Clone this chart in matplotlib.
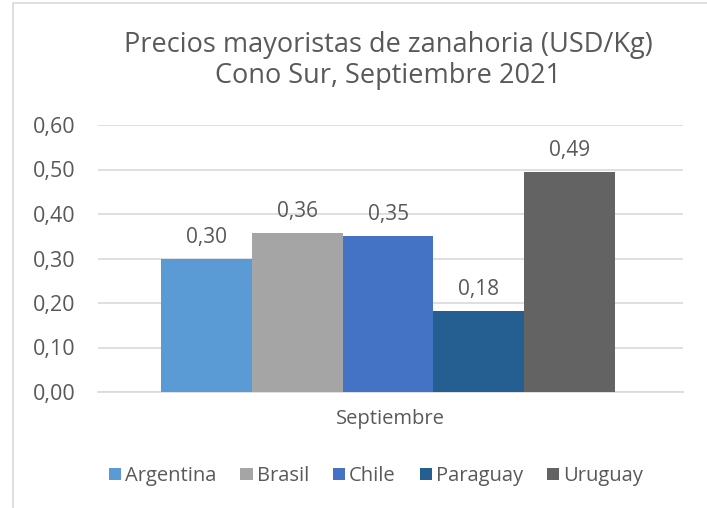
import matplotlib.pyplot as plt
import matplotlib.patches as mpatches
import numpy as np

# Data
paises = ["Argentina", "Brasil", "Chile", "Paraguay", "Uruguay"]
precios = [0.30, 0.357, 0.351, 0.182, 0.494]
etiquetas = ["0,30", "0,36", "0,35", "0,18", "0,49"]
colores = ["#5B9BD5", "#A5A5A5", "#4472C4", "#255E91", "#636363"]
categoria = "Septiembre"
yticks = [0.0, 0.1, 0.2, 0.3, 0.4, 0.5, 0.6]

plt.rcParams['font.family'] = ['Open Sans', 'DejaVu Sans']
text_color = "#595959"

fig = plt.figure(figsize=(7.07, 5.08), dpi=100)
ax = fig.add_axes([98 / 707, 116 / 508, 585 / 707, 267 / 508])

# chart border
fig.patches.append(mpatches.Rectangle((13 / 707, -0.01), 1.0, 1.0 - 3 / 508 + 0.01,
                                      transform=fig.transFigure, fill=False,
                                      edgecolor="#D9D9D9", linewidth=1.2))

n = len(paises)
width = 0.155
offsets = (np.arange(n) - (n - 1) / 2) * width - 0.004
for i in range(n):
    ax.bar(offsets[i], precios[i], width=width, color=colores[i], label=paises[i], zorder=3)
    ax.text(offsets[i], precios[i] + 0.024, etiquetas[i], ha="center", va="bottom",
            fontsize=15, color=text_color)

ax.set_xlim(-0.5, 0.5)
ax.set_ylim(0, 0.6)
ax.set_yticks(yticks)
ax.set_yticklabels([f"{v:.2f}".replace(".", ",") for v in yticks], fontsize=15.5, color=text_color)
ax.set_xticks([0])
ax.set_xticklabels([categoria], fontsize=14.5, color=text_color)
ax.tick_params(axis="y", length=0, pad=16)
ax.tick_params(axis="x", length=0, pad=12)
ax.yaxis.grid(True, color="#D9D9D9", linewidth=1.2, zorder=0)
for s in ax.spines.values():
    s.set_visible(False)
ax.spines["bottom"].set_visible(True)
ax.spines["bottom"].set_color("#D9D9D9")
ax.spines["bottom"].set_linewidth(1.2)

fig.text(388 / 707, 1 - 45 / 508, "Precios mayoristas de zanahoria (USD/Kg)", ha="center",
         va="center", fontsize=19.5, color=text_color)
fig.text(388 / 707, 1 - 76 / 508, "Cono Sur, Septiembre 2021", ha="center",
         va="center", fontsize=19.5, color=text_color)

fig.legend(loc="center", bbox_to_anchor=(376 / 707, 1 - 476 / 508), ncol=5, frameon=False,
           fontsize=14.5, handlelength=0.6, handleheight=0.6, handletextpad=0.2,
           columnspacing=1.2, labelcolor=text_color)

fig.savefig("out.png", dpi=100)
